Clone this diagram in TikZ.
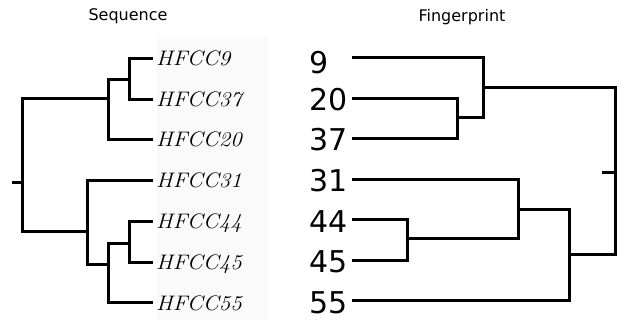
\documentclass[tikz,border=0pt]{standalone}
\usepackage{fontspec}
\newfontfamily\dejavu{DejaVu Sans}
\newcommand{\hl}[1]{\scalebox{1.09}[1]{\fontsize{21}{21}\selectfont\itshape\addfontfeatures{FakeBold=0.6,LetterSpace=3}#1}}
\begin{document}
\begin{tikzpicture}[x=1pt,y=-1pt,
  br/.style={line width=3pt,line cap=rect,line join=miter},
  lab/.style={anchor=base west,inner sep=0pt},
  num/.style={anchor=base west,inner sep=0pt,font=\dejavu\fontsize{30}{30}\selectfont},
  ttl/.style={anchor=base,inner sep=0pt,font=\dejavu\fontsize{16}{16}\selectfont}]
\useasboundingbox (0,0) rectangle (621,320);
\fill[black!2] (157,37) rectangle (268,320);
% titles
\node[ttl] (t1) at (128,21) {Sequence};
\node[ttl] (t2) at (462,22) {Fingerprint};
% ---------- left tree ----------
\node[lab] (L9)  at (156,66)  {\hl{HFCC9}};
\node[lab] (L37) at (156,107) {\hl{HFCC37}};
\node[lab] (L20) at (156,147) {\hl{HFCC20}};
\node[lab] (L31) at (156,188) {\hl{HFCC31}};
\node[lab] (L44) at (156,229) {\hl{HFCC44}};
\node[lab] (L45) at (156,270) {\hl{HFCC45}};
\node[lab] (L55) at (156,310) {\hl{HFCC55}};
\coordinate (e9)  at (151,59);
\coordinate (e37) at (151,100);
\coordinate (e20) at (151,140);
\coordinate (e31) at (151,181);
\coordinate (e44) at (151,222);
\coordinate (e45) at (151,263);
\coordinate (e55) at (151,303);
\coordinate (a) at (129,79.5);
\coordinate (b) at (108,99);
\coordinate (c) at (129,244);
\coordinate (d) at (108,265);
\coordinate (e) at (87,232);
\coordinate (rl) at (22,183);
\coordinate (sl) at (13,183);
\draw[br] (e9) -| (a |- e9) -- (a |- e37) -- (e37);
\draw[br] (a) -- (a -| b);
\draw[br] (a -| b) -- (b |- e20) -- (e20);
\draw[br] (b) -- (rl |- b) -- (rl |- e) -- (e);
\draw[br] (e31) -| (e |- e31) -- (e |- d) -- (d);
\draw[br] (e44) -| (c |- e44) -- (c |- e45) -- (e45);
\draw[br] (c) -- (c -| d) -- (d |- e55) -- (e55);
\draw[br] (sl) -- (rl);
% ---------- right tree ----------
\node[num] (N9)  at (309,74)  {9};
\node[num] (N20) at (309,111) {20};
\node[num] (N37) at (309,151) {37};
\node[num] (N31) at (309,192) {31};
\node[num] (N44) at (309,233) {44};
\node[num] (N45) at (309,273) {45};
\node[num] (N55) at (309,313) {55};
\coordinate (s9)  at (353,58);
\coordinate (s20) at (353,99);
\coordinate (s37) at (353,139);
\coordinate (s31) at (353,180);
\coordinate (s44) at (353,220);
\coordinate (s45) at (353,261);
\coordinate (s55) at (353,301);
\coordinate (f) at (457,118);
\coordinate (g) at (483,88);
\coordinate (h) at (407,239);
\coordinate (i) at (518,210);
\coordinate (j) at (569,255);
\coordinate (rr) at (615,173);
\coordinate (sr) at (603,173);
\draw[br] (s20) -| (f |- s20) -- (f |- s37) -- (s37);
\draw[br] (f) -- (f -| g);
\draw[br] (s9) -| (g |- s9) -- (g |- f);
\draw[br] (g) -- (rr |- g) -- (rr |- j) -- (j);
\draw[br] (s44) -| (h |- s44) -- (h |- s45) -- (s45);
\draw[br] (h) -- (h -| i);
\draw[br] (s31) -| (i |- s31) -- (i |- h);
\draw[br] (i) -- (i -| j);
\draw[br] (i -| j) -- (j |- s55) -- (s55);
\draw[br] (sr) -- (rr);
\end{tikzpicture}
\end{document}
